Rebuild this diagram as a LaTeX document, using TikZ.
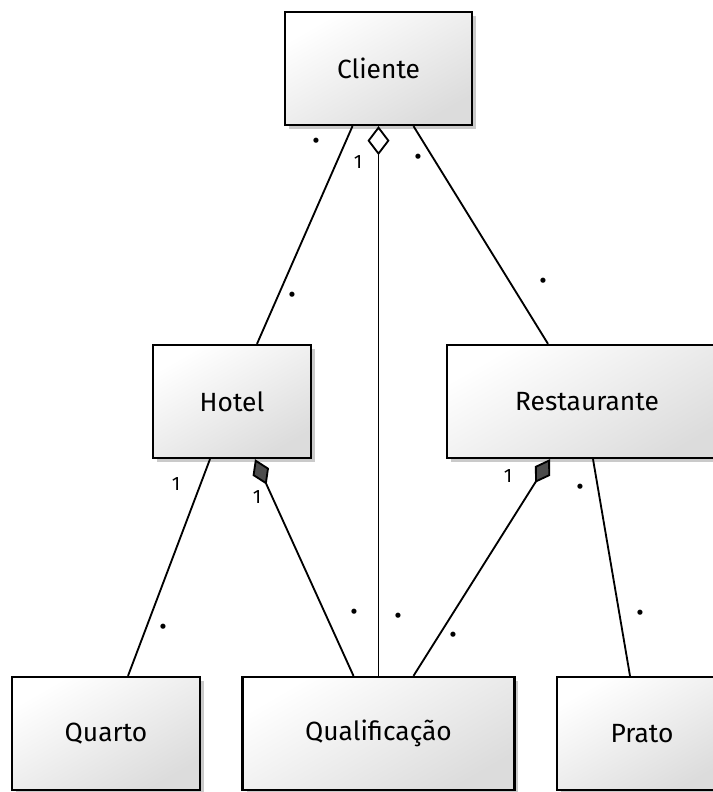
\documentclass[tikz,border=0pt]{standalone}
\usepackage{fontspec}
\setmainfont{Fira Sans}
\usetikzlibrary{arrows.meta,calc,shadows}
\definecolor{classTop}{RGB}{255,255,255}
\definecolor{classBottom}{RGB}{220,220,220}
\tikzset{classbox/.append style={draw, line width=1.3pt, top color=classTop, bottom color=classBottom, shading angle=30, minimum height=2.26cm, drop shadow={shadow xshift=.08cm, shadow yshift=-.08cm, opacity=.35, fill=black!60}, font=\fontsize{15}{18}\selectfont}}
\tikzset{assoc/.style={line width=1.05pt}}
\tikzset{mult/.style={inner sep=1pt, font=\fontsize{11}{12}\selectfont}}
\tikzset{many/.style={inner sep=1pt, font=\fontsize{13}{14}\selectfont}}

\begin{document}
\begin{tikzpicture}[x=0.02cm, y=-0.02cm]

    \useasboundingbox (0,0) rectangle (713,792);

    % Classes
    \node (cliente) [classbox, minimum width=3.74cm] at (378.5,68.5) {Cliente};
    \node (hotel) [classbox, minimum width=3.16cm] at (232,401.5) {Hotel};
    \node (restaurante) [classbox, minimum width=5.6cm] at (587,401.5) {Restaurante};
    \node (quarto) [classbox, minimum width=3.76cm] at (106,733.5) {Quarto};
    \node (qualificacao) [classbox, minimum width=5.44cm] at (378.5,733.5) {Qualificação};
    \node (prato) [classbox, minimum width=3.4cm] at (642,733.5) {Prato};

    % Associations
    \draw [assoc] ($(cliente.south)+(-26,0)$) -- ($(hotel.north)+(25,0)$);
    \draw [assoc, {Diamond[open, length=.58cm, width=.44cm]}-] (cliente.south) -- (qualificacao.north);
    \draw [assoc] ($(cliente.south)+(35,0)$) -- ($(restaurante.north)+(-39,0)$);
    \draw [assoc] ($(hotel.south)+(-22,0)$) -- ($(quarto.north)+(22,0)$);
    \draw [assoc, {Diamond[length=.56cm, width=.36cm, fill=black!70]}-] ($(hotel.south)+(23,0)$) -- ($(qualificacao.north)+(-25,0)$);
    \draw [assoc, {Diamond[length=.56cm, width=.36cm, fill=black!70]}-] ($(restaurante.south)+(-37,0)$) -- ($(qualificacao.north)+(35,0)$);
    \draw [assoc] ($(restaurante.south)+(6,0)$) -- ($(prato.north)+(-12,0)$);

    % Multiplicities
    \node (m1) [many] at (316,143) {\textbullet};
    \node (m2) [mult] at (358,162) {1};
    \node (m3) [many] at (418,159) {\textbullet};
    \node (m4) [many] at (292,297) {\textbullet};
    \node (m5) [many] at (543,283) {\textbullet};
    \node (m6) [mult] at (176,484) {1};
    \node (m7) [mult] at (257,497) {1};
    \node (m8) [mult] at (508,476) {1};
    \node (m9) [many] at (580,489) {\textbullet};
    \node (m10) [many] at (163,629) {\textbullet};
    \node (m11) [many] at (354,614) {\textbullet};
    \node (m12) [many] at (398,618) {\textbullet};
    \node (m13) [many] at (453,637) {\textbullet};
    \node (m14) [many] at (640,615) {\textbullet};

\end{tikzpicture}
\end{document}
